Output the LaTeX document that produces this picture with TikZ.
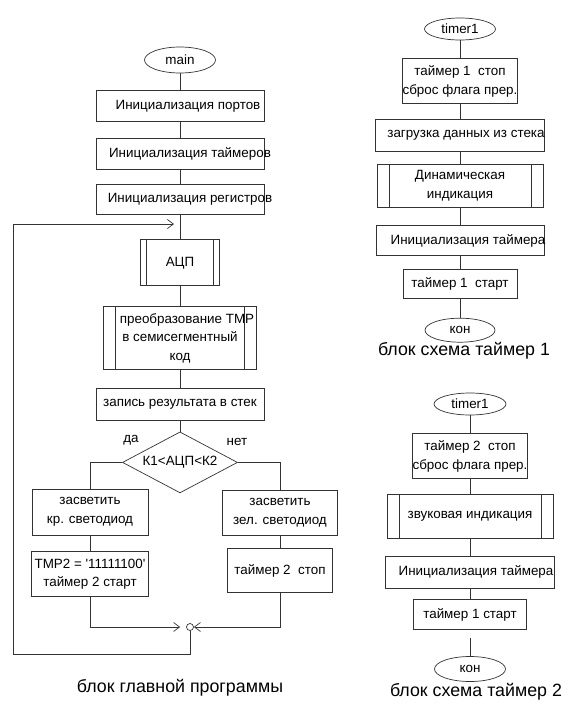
\documentclass[tikz,border=0pt]{standalone}
\usepackage{fontspec}
\setmainfont{Liberation Sans}
\usetikzlibrary{positioning,shapes.geometric,arrows.meta,calc}
\newcommand{\shifted}[2]{\hspace*{#1}#2\hspace*{-#1}}

\begin{document}
\begin{tikzpicture}[x=1pt, y=1pt, draw=black!80, line width=0.7pt, font=\fontsize{13.4}{18.5}\selectfont]
% Definition of blocks:
\tikzset{%
  block/.style    = {draw, rectangle, align=center, inner sep=0pt, minimum height=31pt, minimum width=168pt},
  sub/.style      = {block, path picture={\draw ([xshift=#1]path picture bounding box.north west) -- ([xshift=#1]path picture bounding box.south west) ([xshift=-#1]path picture bounding box.north east) -- ([xshift=-#1]path picture bounding box.south east);}}, % Subroutine
  term/.style     = {draw, ellipse, inner sep=0pt, minimum width=71pt, minimum height=24pt}, % Begin / end
  cond/.style     = {draw, diamond, aspect=1.885, inner sep=0pt, minimum width=115pt, minimum height=61pt},
  merge/.style    = {draw, circle, inner sep=0pt, minimum size=7pt},
  caption/.style  = {font=\fontsize{17.8}{21}\selectfont},
  flow/.style     = {-{Straight Barb[length=6pt,width=9pt]}}
}
\useasboundingbox (0,0) rectangle (580,-720);

% main program
\node [term, minimum height=26pt] (main) at (180,-60) {main};
\node [block, below=17pt of main] (ports) {\shifted{8pt}{Инициализация портов}};
\node [block, below=16pt of ports] (timers) {\shifted{10pt}{Инициализация таймеров}};
\node [block, below=14pt of timers, minimum height=30pt] (regs) {\shifted{10pt}{Инициализация регистров}};
\node [sub=6pt, below=25pt of regs, minimum width=79pt, minimum height=46pt] (adc) {АЦП};
\node [sub=12pt, below=20pt of adc, minimum width=153pt, minimum height=63pt] (conv) {\shifted{7pt}{преобразование TMP}\\в семисегментный\\код};
\node [block, below=18pt of conv, minimum height=32pt] (push) {запись результата в стек};
\node [cond, below=11pt of push] (cmp) {К1<АЦП<К2};
\node (yes) at (131,-440) {да};
\node (no) at (237,-442) {нет};

\node [block, minimum width=116pt, minimum height=46pt] (ledred) at (90,-512) {засветить\\кр. светодиод};
\node [block, below=16pt of ledred, minimum width=117pt, minimum height=45pt] (tmrset) {TMP2 = \textquotesingle 11111100\textquotesingle\\таймер 2 старт};
\node [block, minimum width=115pt, minimum height=45pt] (ledgreen) at (280,-512.5) {засветить\\зел. светодиод};
\node [block, below=13pt of ledgreen, minimum width=105pt, minimum height=44pt] (tmrstop) {таймер 2\ \ стоп};
\node [merge] (m) at (190,-627) {};
\coordinate (loop) at (13,-654);
\coordinate (entry) at (180,-224);
\node [caption] (capmain) at (180,-688) {блок главной программы};

\draw (main) -- (ports);
\draw (ports) -- (timers);
\draw (timers) -- (regs);
\draw (regs) -- (adc);
\draw (adc) -- (conv);
\draw (conv) -- (push);
\draw (push) -- (cmp);
\draw (cmp.west) -| (ledred);
\draw (cmp.east) -| (ledgreen);
\draw (ledred) -- (tmrset);
\draw (ledgreen) -- (tmrstop);
\draw [flow, shorten >=6pt] (tmrset) |- (m);
\draw [flow] (tmrstop) |- (m);
\draw [flow, shorten >=6pt] (m) |- (loop) |- (entry);

% timer 1
\node [term, minimum height=22pt] (ta) at (460,-29) {timer1};
\node [block, below=18pt of ta, minimum width=114pt, minimum height=45pt] (stopa) {таймер 1\ \ стоп\\сброс флага прер.};
\node [block, below=15pt of stopa, minimum width=169pt, minimum height=32pt] (load) {\shifted{6pt}{загрузка данных из стека}};
\node [sub=12pt, below=12pt of load, minimum width=166pt, minimum height=43pt] (dyn) {Динамическая\\индикация};
\node [block, below=18pt of dyn, minimum height=30pt] (inita) {\shifted{8pt}{Инициализация таймера}};
\node [block, below=13pt of inita, minimum width=114pt, minimum height=29pt] (starta) {таймер 1\ \ старт};
\node [term, below=19pt of starta, minimum width=70pt] (enda) {кон};
\node [caption] (capa) at (464,-351) {блок схема таймер 1};

\draw (ta) -- (stopa);
\draw (stopa) -- (load);
\draw (load) -- (dyn);
\draw (dyn) -- (inita);
\draw (inita) -- (starta);
\draw (starta) -- (enda);

% timer 2
\node [term, minimum width=72pt, minimum height=22pt] (tb) at (470,-404) {timer1};
\node [block, below=18pt of tb, minimum width=114pt, minimum height=45pt] (stopb) {таймер 2\ \ стоп\\сброс флага прер.};
\node [sub=12pt, below=15pt of stopb, minimum width=166pt, minimum height=44pt] (sound) {звуковая индикация};
\node [block, below=17pt of sound, minimum width=169pt, minimum height=32pt] (initb) {\shifted{6pt}{Инициализация таймера}};
\node [block, below=11pt of initb, minimum width=113pt, minimum height=30pt] (startb) {таймер 1 старт};
\node [term, below=26pt of startb, minimum height=25pt] (endb) {кон};
\node [caption] (capb) at (476,-692) {блок схема таймер 2};

\draw (tb) -- (stopb);
\draw (stopb) -- (sound);
\draw (sound) -- (initb);
\draw (initb) -- (startb);
\draw [shorten <=8pt] (startb) -- (endb);
\end{tikzpicture}
\end{document}
